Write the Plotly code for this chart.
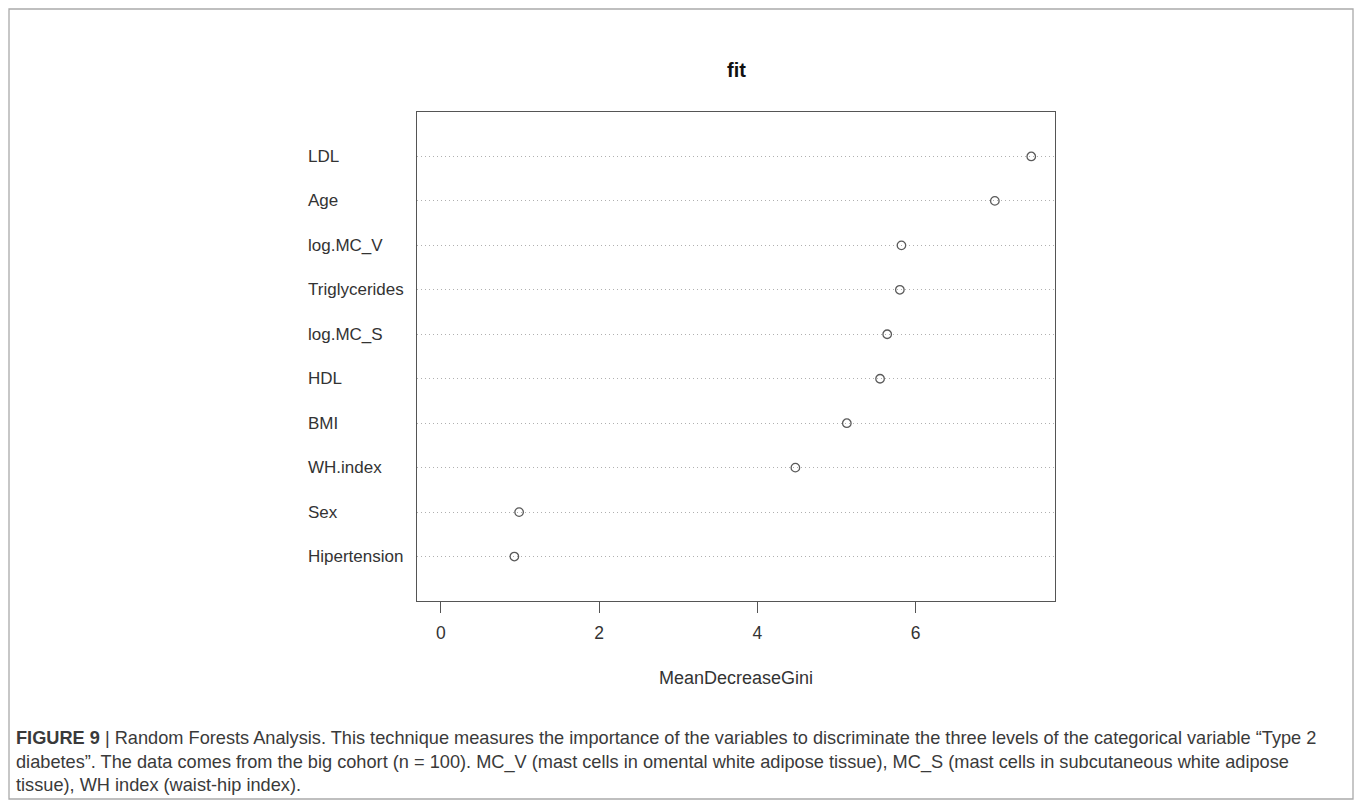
import plotly.graph_objects as go

# ---- data ----
variables = ["LDL", "Age", "log.MC_V", "Triglycerides", "log.MC_S",
             "HDL", "BMI", "WH.index", "Sex", "Hipertension"]
mean_decrease_gini = [7.46, 7.00, 5.82, 5.80, 5.64, 5.55, 5.13, 4.48, 0.99, 0.93]
x_ticks = [0, 2, 4, 6]
x_tick_labels = ["0", "2", "4", "6"]
chart_title = "fit"
x_title = "MeanDecreaseGini"
caption_lines = [
    "<b>FIGURE 9</b> | Random Forests Analysis. This technique measures the importance of the variables to discriminate the three levels of the categorical variable \u201cType 2",
    "diabetes\u201d. The data comes from the big cohort (n = 100). MC_V (mast cells in omental white adipose tissue), MC_S (mast cells in subcutaneous white adipose",
    "tissue), WH index (waist-hip index).",
]

W, H = 1355, 800
L, R, T, B = 417, 1055, 112, 601  # plot area in pixels

def px_x(p):
    return (p - L) / (R - L)

def px_y(p):
    return (B - p) / (B - T)

n = len(variables)
ypos = list(range(n, 0, -1))  # top item at n

FONT = "Liberation Sans, Arial, sans-serif"

fig = go.Figure()
fig.add_trace(go.Scatter(
    x=mean_decrease_gini, y=ypos, mode="markers",
    marker=dict(symbol="circle-open", size=8.5, color="#5a5a5a",
                line=dict(width=1.3, color="#5a5a5a")),
    showlegend=False, hoverinfo="x+text", text=variables,
))

annotations = []
for name, yv in zip(variables, ypos):
    annotations.append(dict(
        x=px_x(306), y=yv, xref="paper", yref="y", text=name,
        showarrow=False, xanchor="left", yanchor="middle",
        font=dict(family=FONT, size=17, color="#333333")))

annotations.append(dict(
    x=0.5, y=px_y(70), xref="paper", yref="paper", text="<b>" + chart_title + "</b>",
    showarrow=False, xanchor="center", yanchor="middle",
    font=dict(family=FONT, size=20, color="#111111")))

annotations.append(dict(
    x=0.5, y=px_y(678), xref="paper", yref="paper", text=x_title,
    showarrow=False, xanchor="center", yanchor="middle",
    font=dict(family=FONT, size=18, color="#333333")))

cap_y = [738, 762, 785]
for line, cy in zip(caption_lines, cap_y):
    annotations.append(dict(
        x=px_x(14), y=px_y(cy), xref="paper", yref="paper", text=line,
        showarrow=False, xanchor="left", yanchor="middle",
        font=dict(family=FONT, size=18.2, color="#3a3a3a")))

shapes = [dict(type="rect", xref="paper", yref="paper",
               x0=px_x(9), x1=px_x(1353), y0=px_y(9), y1=px_y(799),
               line=dict(color="#aaaaaa", width=1.3), fillcolor="rgba(0,0,0,0)",
               layer="below")]

fig.update_layout(
    width=W, height=H,
    margin=dict(l=L, r=W - R, t=T, b=H - B),
    paper_bgcolor="white", plot_bgcolor="white",
    annotations=annotations, shapes=shapes,
    xaxis=dict(range=[-0.3, 7.76], tickvals=x_ticks, ticktext=x_tick_labels,
               ticks="outside", ticklen=11, tickcolor="#555555", tickwidth=1.2,
               ticklabelstandoff=5,
               showgrid=False, zeroline=False, showline=True, mirror=True,
               linecolor="#555555", linewidth=1.3,
               tickfont=dict(family=FONT, size=17.5, color="#333333")),
    yaxis=dict(range=[0, n + 1], tickvals=ypos, showticklabels=False,
               ticks="", showgrid=True, gridcolor="#b0b0b0", griddash="1px,3px",
               gridwidth=1, zeroline=False, showline=True, mirror=True,
               linecolor="#555555", linewidth=1.3),
    font=dict(family=FONT),
)

fig.write_html("out.html")
